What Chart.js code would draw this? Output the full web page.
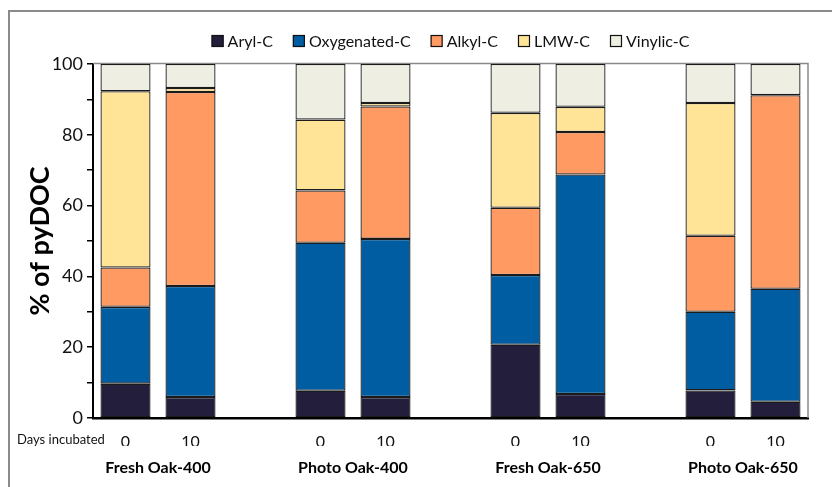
<!DOCTYPE html>
<html>
<head>
<meta charset="utf-8">
<script src="https://cdn.jsdelivr.net/npm/chart.js@4.4.1/dist/chart.umd.min.js"></script>
<style>
  html, body { margin: 0; padding: 0; background: #fff; }
  #wrap { position: relative; width: 832px; height: 487px; overflow: hidden; background: #fff; }
  #frame { position: absolute; left: 8px; top: 10px; width: 900px; height: 600px;
           border-left: 2px solid #8a8a8a; border-top: 2px solid #8a8a8a; }
  canvas { position: absolute; left: 0; top: 0; }
</style>
</head>
<body>
<div id="wrap">
  <div id="frame"></div>
  <canvas id="c" width="832" height="487"></canvas>
</div>
<script>
// Sample groups and incubation days (two bars per group)
const groups = ['Fresh Oak-400', 'Photo Oak-400', 'Fresh Oak-650', 'Photo Oak-650'];
const days = ['0', '10'];

// Composition of pyDOC (%) for each bar, in order: group 1 day 0, day 10, group 2 ...
const aryl        = [9.7, 5.9,  7.7, 5.9,  20.7, 6.8,  7.8, 4.6];
const oxygenated  = [21.7, 31.4, 41.8, 44.7, 19.7, 62.0, 22.2, 31.9];
const alkyl       = [11.1, 54.8, 14.8, 37.4, 19.0, 12.0, 21.5, 54.7];
const lmw         = [49.8, 1.1,  20.0, 1.0,  26.8, 7.1,  37.5, 0];
const vinylic     = [7.7, 6.8,  15.7, 11.0, 13.8, 12.1, 11.0, 8.8];

const seriesNames  = ['Aryl-C', 'Oxygenated-C', 'Alkyl-C', 'LMW-C', 'Vinylic-C'];
const seriesColors = ['#221e3c', '#005da1', '#ff9a63', '#ffe498', '#eeeee2'];
const yTicks = [0, 20, 40, 60, 80, 100];

// Spread the 8 bars over 11 category slots, leaving one empty slot between groups
function toSlots(values) {
  const out = [];
  groups.forEach((g, gi) => {
    days.forEach((d, di) => out.push(values[gi * days.length + di]));
    if (gi < groups.length - 1) out.push(null);
  });
  return out;
}
const slotLabels = toSlots(groups.flatMap(() => days)).map(v => v === null ? '' : v);
const groupCenters = groups.map((g, gi) => gi * (days.length + 1) + (days.length - 1) / 2);

const allSeries = [aryl, oxygenated, alkyl, lmw, vinylic];
const datasets = allSeries.map((vals, i) => ({
  label: seriesNames[i],
  data: toSlots(vals),
  backgroundColor: seriesColors[i],
  borderColor: '#1b1b1b',
  borderWidth: c => (c.raw === 0 ? 0 : 1.3),
  borderSkipped: false,
  barPercentage: 0.77,
  categoryPercentage: 1.0
}));

const FONT = 'Lato';

// Legend drawn as a single centered row above the plot
const legendRow = {
  id: 'legendRow',
  afterDraw(chart) {
    const ctx = chart.ctx;
    const area = chart.chartArea;
    const box = 12, gapText = 4, gapItem = 20;
    ctx.save();
    ctx.font = '16px ' + FONT;
    const widths = seriesNames.map(n => ctx.measureText(n).width);
    const total = widths.reduce((a, w) => a + box + gapText + w, 0) + gapItem * (seriesNames.length - 1);
    let x = (area.left + area.right) / 2 - total / 2;
    const yc = 41;
    ctx.textBaseline = 'middle';
    ctx.textAlign = 'left';
    seriesNames.forEach((n, i) => {
      ctx.fillStyle = seriesColors[i];
      ctx.fillRect(x, yc - box / 2, box, box);
      ctx.strokeStyle = '#111';
      ctx.lineWidth = 1.2;
      ctx.strokeRect(x + 0.5, yc - box / 2 + 0.5, box - 1, box - 1);
      ctx.fillStyle = '#111';
      ctx.fillText(n, x + box + gapText, yc + 1);
      x += box + gapText + widths[i] + gapItem;
    });
    ctx.restore();
  }
};

// Grey plot-area outline on the top and right sides, plus the "Days incubated" row label
const plotFrame = {
  id: 'plotFrame',
  beforeDatasetsDraw(chart) {
    const { ctx, chartArea: a } = chart;
    ctx.save();
    ctx.strokeStyle = '#8a8a8a';
    ctx.lineWidth = 1.5;
    ctx.beginPath();
    ctx.moveTo(a.left, a.top - 0.5);
    ctx.lineTo(a.right, a.top - 0.5);
    ctx.lineTo(a.right, a.bottom);
    ctx.stroke();
    ctx.restore();
  },
  afterDraw(chart) {
    const { ctx, chartArea: a } = chart;
    ctx.save();
    ctx.font = '13px ' + FONT;
    ctx.fillStyle = '#111';
    ctx.textBaseline = 'middle';
    ctx.textAlign = 'left';
    ctx.fillText('Days incubated', 17, a.bottom + 22);
    ctx.restore();
  }
};

const slotMin = -0.5, slotMax = slotLabels.length - 0.5;

new Chart(document.getElementById('c'), {
  type: 'bar',
  data: { labels: slotLabels, datasets },
  plugins: [legendRow, plotFrame],
  options: {
    responsive: false,
    animation: false,
    layout: { padding: { top: 64, right: 24, bottom: 5, left: 0 } },
    plugins: { legend: { display: false }, tooltip: { enabled: false } },
    scales: {
      x: {
        stacked: true,
        grid: { display: false },
        border: { display: true, color: '#000', width: 2.5 },
        ticks: { font: { family: FONT, size: 16 }, color: '#111', padding: 6, maxRotation: 0, autoSkip: false },
        afterFit: s => { s.height = 28; }
      },
      x2: {
        type: 'linear',
        position: 'bottom',
        offset: false,
        bounds: 'data',
        min: slotMin,
        max: slotMax,
        grid: { display: false, offset: false },
        border: { display: false },
        afterBuildTicks: s => {
          s.ticks = groupCenters.map(v => ({ value: v }));
          s.min = slotMin;
          s.max = slotMax;
        },
        ticks: {
          font: { family: FONT, size: 16, weight: 'bold' },
          color: '#000',
          padding: 4,
          maxRotation: 0,
          autoSkip: false,
          callback: v => groups[groupCenters.indexOf(v)]
        },
        afterFit: s => { s.height = 36; }
      },
      y: {
        stacked: true,
        min: 0,
        max: 100,
        ticks: {
          stepSize: 10,
          font: { family: FONT, size: 18 },
          color: '#111',
          padding: 4,
          callback: v => yTicks.includes(v) ? v : ''
        },
        grid: { drawOnChartArea: false, drawTicks: true, tickLength: 6, color: '#000', lineWidth: 1.5 },
        border: { display: true, color: '#000', width: 2 },
        title: {
          display: true,
          text: '% of pyDOC',
          font: { family: FONT, size: 27, weight: 'bold' },
          color: '#000',
          padding: { top: 24, bottom: 0 }
        },
        afterFit: s => { s.width = 93; }
      }
    }
  }
});
</script>
</body>
</html>
